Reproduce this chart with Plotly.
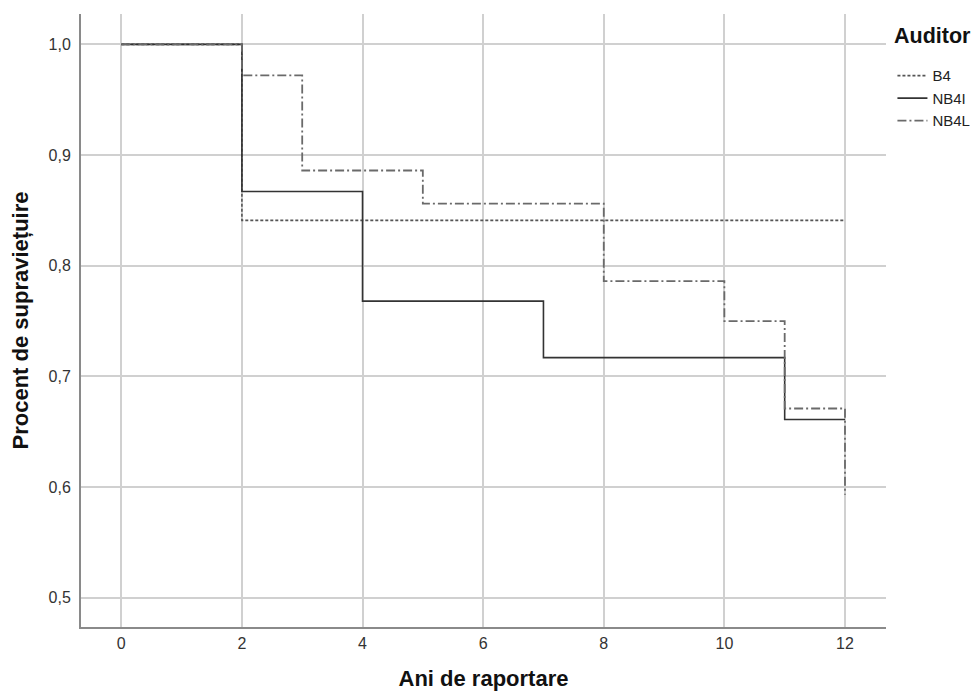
import plotly.graph_objects as go

# Data
b4_t = [0, 2, 12]
b4_s = [1.0, 0.841, 0.841]
nb4i_t = [0, 2, 4, 7, 11, 12]
nb4i_s = [1.0, 0.867, 0.768, 0.717, 0.661, 0.661]
nb4l_t = [0, 2, 3, 5, 8, 10, 11, 12, 12]
nb4l_s = [1.0, 0.972, 0.886, 0.856, 0.786, 0.750, 0.671, 0.671, 0.593]

x_ticks = [0, 2, 4, 6, 8, 10, 12]
y_ticks = [0.5, 0.6, 0.7, 0.8, 0.9, 1.0]
y_ticktext = ["0,5", "0,6", "0,7", "0,8", "0,9", "1,0"]

FONT = "Liberation Sans, Arial, sans-serif"

fig = go.Figure()
fig.add_trace(go.Scatter(x=b4_t, y=b4_s, mode="lines", line_shape="hv", name="B4",
                         line=dict(color="#555555", width=1.6, dash="3px,2px")))
fig.add_trace(go.Scatter(x=nb4i_t, y=nb4i_s, mode="lines", line_shape="hv", name="NB4I",
                         line=dict(color="#333333", width=1.6)))
fig.add_trace(go.Scatter(x=nb4l_t, y=nb4l_s, mode="lines", line_shape="hv", name="NB4L",
                         line=dict(color="#6a6a6a", width=1.8, dash="9px,3px,2px,3px")))

fig.update_layout(
    width=971, height=688,
    margin=dict(l=73, r=92.5, t=6, b=69, autoexpand=False),
    plot_bgcolor="white", paper_bgcolor="white",
    font=dict(family=FONT, color="#222222"),
    showlegend=True,
    legend=dict(x=1.008, y=0.926, xanchor="left", yanchor="top",
                font=dict(size=15, color="#222222"),
                bgcolor="rgba(0,0,0,0)", tracegroupgap=0, itemwidth=30),
    annotations=[dict(text="<b>Auditor</b>", x=1.0075, y=0.987, xref="paper", yref="paper",
                      xanchor="left", yanchor="top", showarrow=False,
                      font=dict(size=21.5, color="#111111", family=FONT))],
)
fig.update_xaxes(range=[-0.668, 12.68], tickvals=x_ticks, ticktext=[str(v) for v in x_ticks],
                 showgrid=True, gridcolor="#d0d0d0", gridwidth=1.5, automargin=False,
                 showline=True, linecolor="#8a8a8a", linewidth=2, zeroline=False,
                 ticks="", ticklabelstandoff=1, tickfont=dict(size=16, color="#333333"),
                 title=dict(text="<b>Ani de raportare</b>", font=dict(size=22, color="#111111"), standoff=19))
fig.update_yaxes(range=[0.4736, 1.0274], tickvals=y_ticks, ticktext=y_ticktext,
                 showgrid=True, gridcolor="#d0d0d0", gridwidth=1.5, automargin=False,
                 showline=True, linecolor="#8a8a8a", linewidth=2, zeroline=False,
                 ticks="", ticklabelstandoff=5, tickfont=dict(size=16, color="#333333"),
                 title=dict(text="<b>Procent de supraviețuire</b>", font=dict(size=22, color="#111111"), standoff=14))

fig.write_html("out.html")
